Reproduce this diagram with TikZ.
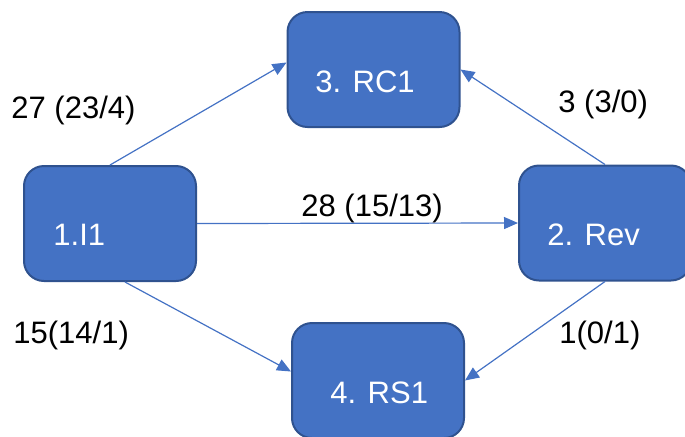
\documentclass[tikz,border=0pt]{standalone}
\usepackage{fontspec}
\setmainfont{Liberation Sans}
\usetikzlibrary{arrows.meta}
\definecolor{stageblue}{HTML}{4472C4}
\definecolor{stageedge}{HTML}{2F528F}

\begin{document}
\begin{tikzpicture}[
    x = 0.5pt, y = -0.5pt,
    every node/.style = {font = \fontsize{15.5}{18}\selectfont},
    stage/.style = {draw = stageedge, line width = 1pt, fill = stageblue,
      rounded corners = 10pt, minimum width = 86pt, minimum height = 57.5pt,
      inner sep = 0pt},
    stage text/.style = {text = white, anchor = base west, inner sep = 0pt},
    flow/.style = {draw = stageblue, line width = 0.6pt,
      -{Triangle[length = 7pt, width = 6pt]}},
    flow label/.style = {anchor = base west, inner sep = 0pt},
  ]
  \clip (0,0) rectangle (685,436);

  \node [stage] (i1)  at (110,223.5) {};
  \node [stage] (rev) at (605,223)   {};
  \node [stage] (rc1) at (373.5,69.5) {};
  \node [stage] (rs1) at (378,380.5) {};

  \node [stage text] (i1 text)  at (53,245)  {1.I1};
  \node [stage text] (rev text) at (547,245) {2. Rev};
  \node [stage text] (rc1 text) at (315,92)  {3. RC1};
  \node [stage text] (rs1 text) at (330,403) {4. RS1};

  \draw [flow] (i1.north) -- ([yshift = 3.5pt]rc1.west);
  \draw [flow] (rev.north) -- (rc1.east);
  \draw [flow] (i1.east) -- (rev.west);
  \draw [flow] ([xshift = 7.5pt]i1.south) -- ([yshift = 4.5pt]rs1.west);
  \draw [flow] (rev.south) -- (rs1.east);

  \node [flow label] (i1 rc1)  at (11,118)  {27 (23/4)};
  \node [flow label] (rev rc1) at (558,112) {3 (3/0)};
  \node [flow label] (i1 rev)  at (301,216) {28 (15/13)};
  \node [flow label] (i1 rs1)  at (13,343)  {15(14/1)};
  \node [flow label] (rev rs1) at (559,343) {1(0/1)};
\end{tikzpicture}
\end{document}
